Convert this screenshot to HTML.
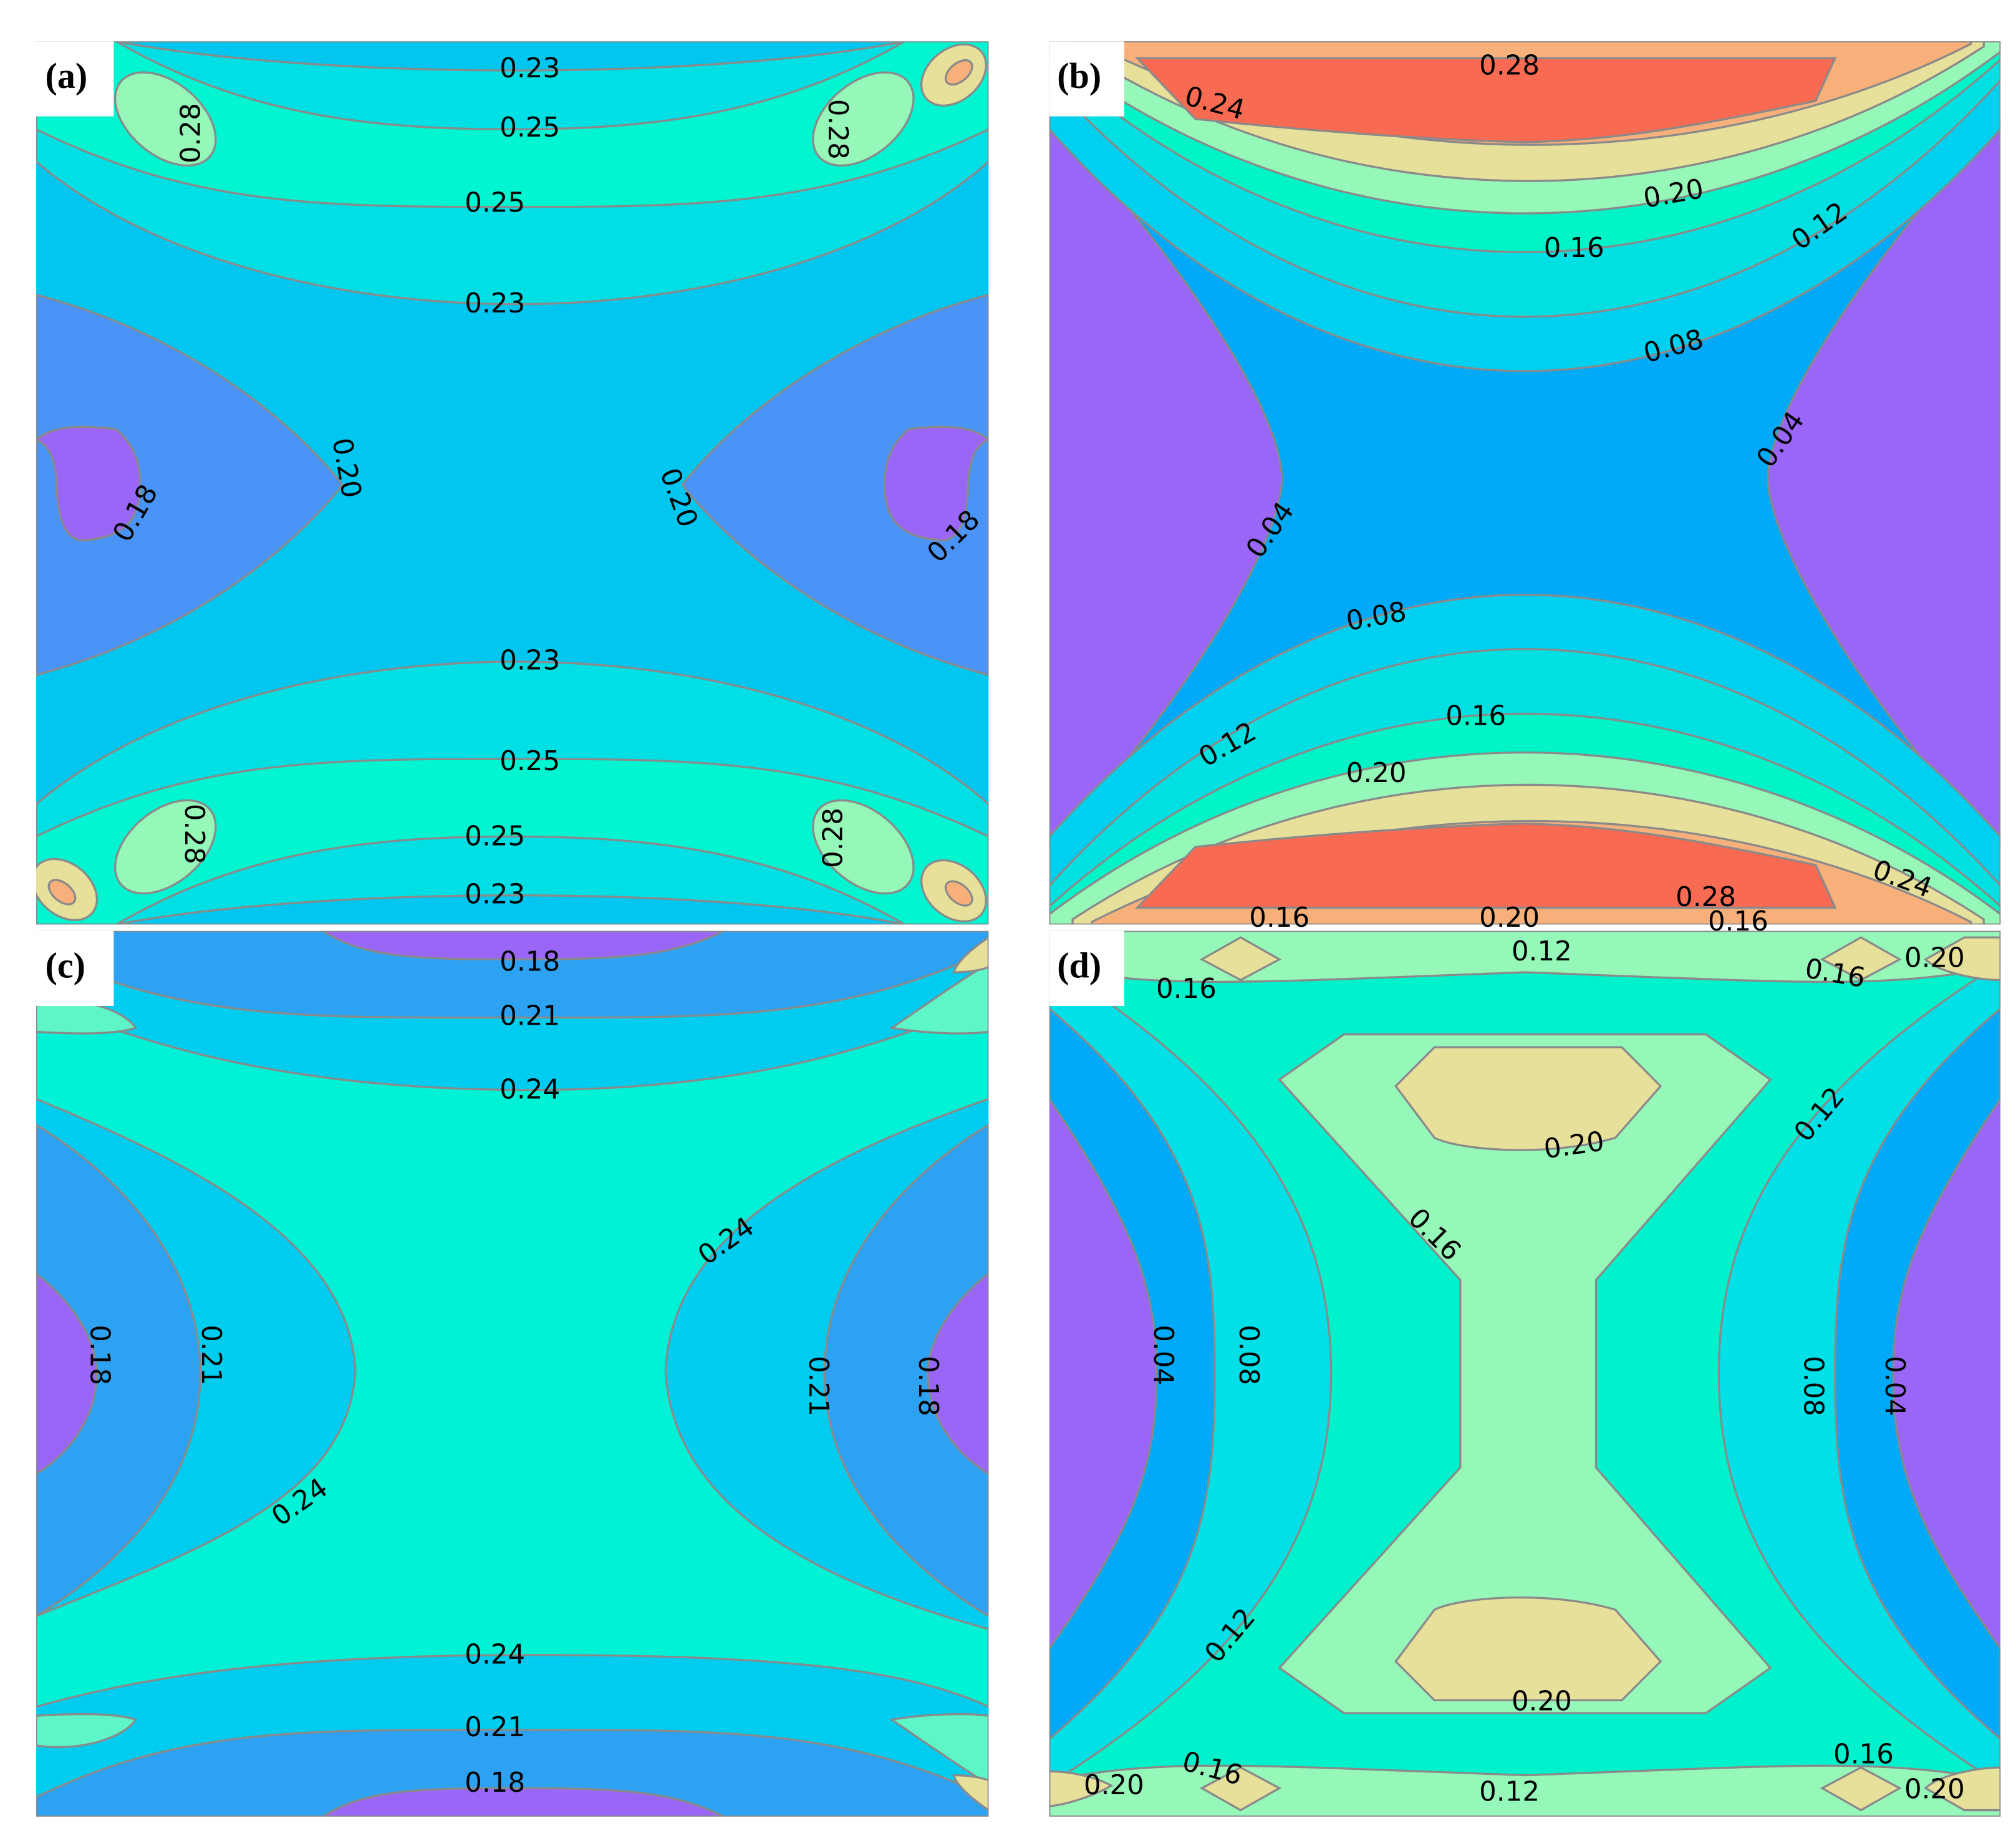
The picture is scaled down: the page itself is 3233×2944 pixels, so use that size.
<!DOCTYPE html>
<html><head><meta charset="utf-8">
<style>
html,body{margin:0;padding:0;background:#fff;}
svg{display:block;}
.cl{font-family:"DejaVu Sans","Liberation Sans",sans-serif;font-size:21px;fill:#000;text-anchor:middle;dominant-baseline:central;}
.pl{font-family:"Liberation Serif",serif;font-weight:bold;font-size:28px;fill:#000;}
.ln{stroke:#8a8a8a;stroke-width:1.6;}
</style></head>
<body>
<svg id="fig" width="3233" height="2944" viewBox="0 0 1560 1420" preserveAspectRatio="none" xmlns="http://www.w3.org/2000/svg">
<defs>
<clipPath id="ca"><rect x="28" y="32" width="737" height="683"/></clipPath>
<clipPath id="cb"><rect x="812" y="32" width="736" height="683"/></clipPath>
<clipPath id="cc"><rect x="28" y="720" width="737" height="685"/></clipPath>
<clipPath id="cd"><rect x="812" y="720" width="736" height="685"/></clipPath>
</defs>
<rect width="1560" height="1420" fill="#fff"/>

<!-- Panel A -->
<g clip-path="url(#ca)">
<rect x="28" y="32" width="737" height="683" fill="#00c6f0"/>
<g id="aTop">
<path class="ln" d="M28,32 H765 V125 C600,272 200,272 28,125 Z" fill="#00dfe4"/>
<path class="ln" d="M28,100 C150,160 250,160 396,160 C540,160 640,160 765,100 V32 H700 C600,90 500,100 396,100 C290,100 190,90 90,32 H28 Z" fill="#00f5d0"/>
<path class="ln" d="M90,32 C250,62 550,62 700,32 Z" fill="#00c6f0"/>
<ellipse class="ln" cx="128" cy="92" rx="45" ry="28" transform="rotate(40 128 92)" fill="#96f8b8"/>
<ellipse class="ln" cx="668" cy="92" rx="45" ry="28" transform="rotate(-40 668 92)" fill="#96f8b8"/>
<ellipse class="ln" cx="738" cy="58" rx="28" ry="20" transform="rotate(-40 738 58)" fill="#e6e09a"/>
<ellipse class="ln" cx="742" cy="56" rx="12" ry="7" transform="rotate(-40 742 56)" fill="#f8b07a"/>
</g>
<use href="#aTop" transform="translate(0,747) scale(1,-1)"/>
<g id="aSide">
<path class="ln" d="M28,228 C150,260 230,330 265,375 C230,420 150,490 28,522 Z" fill="#4a94f8"/>
<path class="ln" d="M28,340 C40,330 60,328 90,332 C105,345 110,360 108,385 C104,405 95,415 65,418 C50,418 45,400 44,380 C44,360 40,345 28,340 Z" fill="#9966f8"/>
</g>
<use href="#aSide" transform="translate(793,0) scale(-1,1)"/>
<ellipse class="ln" cx="50" cy="688" rx="28" ry="20" transform="rotate(40 50 688)" fill="#e6e09a"/>
<ellipse class="ln" cx="48" cy="690" rx="12" ry="7" transform="rotate(40 48 690)" fill="#f8b07a"/>
</g>

<!-- Panel B -->
<g clip-path="url(#cb)">
<rect x="812" y="32" width="736" height="683" fill="#00aaf8"/>
<g id="bSide">
<path class="ln" d="M812,92 C870,150 990,300 992,370 C990,440 870,600 812,655 Z" fill="#9966f8"/>
</g>
<use href="#bSide" transform="translate(2360,0) scale(-1,1)"/>
<g id="bTop"></g>
<use href="#bTop" transform="translate(0,747) scale(1,-1)"/>
</g>

<!-- Panel C -->
<g clip-path="url(#cc)">
<rect x="28" y="720" width="737" height="685" fill="#00ccf0"/>
<path class="ln" d="M28,775 C100,800 200,843 410,843 C600,843 700,800 765,775 L765,850 C620,900 520,960 515,1060 C520,1160 620,1220 765,1260 L765,1320 C700,1290 600,1280 410,1280 C200,1280 100,1300 28,1320 L28,1250 C150,1200 270,1160 275,1060 C270,960 150,900 28,850 Z" fill="#00f2d6"/>
<g id="cTop">
<path class="ln" d="M28,720 H765 V735 C650,790 550,787 396,787 C240,787 140,790 28,735 Z" fill="#2ea2f2"/>
<path class="ln" d="M250,720 H560 C520,740 480,742 396,742 C320,742 280,740 250,720 Z" fill="#9966f8"/>
<path class="ln" d="M28,775 C60,770 95,780 105,795 C90,800 60,800 28,798 Z" fill="#5ef6c8"/>
<path class="ln" d="M765,745 C740,760 705,785 690,795 C720,800 750,800 765,798 Z" fill="#5ef6c8"/>
<path class="ln" d="M765,725 C750,735 740,745 738,752 C750,752 760,750 765,748 Z" fill="#e6e09a"/>
</g>
<use href="#cTop" transform="translate(0,2125) scale(1,-1)"/>
<g id="cSide">
<path class="ln" d="M28,870 C110,920 155,990 155,1062 C155,1135 110,1200 28,1250 Z" fill="#2ea2f2"/>
<path class="ln" d="M28,985 C60,1010 75,1040 75,1062 C75,1090 60,1120 28,1140 Z" fill="#9966f8"/>
</g>
<use href="#cSide" transform="translate(793,0) scale(-1,1)"/>
</g>

<!-- Panel D -->
<g clip-path="url(#cd)">
<rect x="812" y="720" width="736" height="685" fill="#9966f8"/>
<path class="ln" d="M812,720 H1548 V850 C1480,950 1465,1000 1465,1062 C1465,1130 1480,1180 1548,1275 V1405 H812 V1275 C880,1180 895,1130 895,1062 C895,1000 880,950 812,850 Z" fill="#00aaf8"/>
<path class="ln" d="M812,720 H1548 V780 C1430,880 1420,960 1420,1062 C1420,1165 1430,1245 1548,1345 V1405 H812 V1345 C930,1245 940,1165 940,1062 C940,960 930,880 812,780 Z" fill="#00e0e6"/>
<path class="ln" d="M812,720 H1548 V745 C1380,850 1330,950 1330,1062 C1330,1175 1380,1275 1548,1380 V1405 H812 V1380 C980,1275 1030,1175 1030,1062 C1030,950 980,850 812,745 Z" fill="#00f2cc"/>
<path class="ln" d="M990,835 L1040,800 H1320 L1370,835 L1235,990 L1235,1135 L1370,1290 L1320,1325 H1040 L990,1290 L1130,1135 L1130,990 Z" fill="#96f8b8"/>
<g id="dTop">
<path class="ln" d="M1080,840 L1110,810 H1255 L1285,840 L1250,880 C1200,895 1130,890 1110,880 Z" fill="#e6e09a"/>
<path class="ln" d="M812,720 H1548 V748 C1450,765 1400,760 1180,752 C960,760 900,765 812,748 Z" fill="#96f8b8"/>
<path class="ln" d="M1440,725 L1470,742 L1440,758 L1410,742 Z" fill="#e6e09a"/>
<path class="ln" d="M1520,725 H1548 V758 C1530,758 1500,752 1490,742 Z" fill="#e6e09a"/>
<path class="ln" d="M960,725 L990,742 L960,758 L930,742 Z" fill="#e6e09a"/>
<path class="ln" d="M812,728 C830,730 850,738 860,744 C845,752 825,755 812,755 Z" fill="#e6e09a"/>
</g>
<use href="#dTop" transform="translate(0,2125) scale(1,-1)"/>
</g>

<!-- panel letter boxes -->
<rect x="28" y="32" width="60" height="58" fill="#fff"/>
<rect x="812" y="32" width="58" height="58" fill="#fff"/>
<rect x="28" y="720" width="60" height="58" fill="#fff"/>
<rect x="812" y="720" width="58" height="58" fill="#fff"/>
<text class="pl" x="35" y="68">(a)</text>
<text class="pl" x="818" y="68">(b)</text>
<text class="pl" x="35" y="756">(c)</text>
<text class="pl" x="818" y="756">(d)</text>

<g id="labels"></g>
</svg>
<script>
// Panel (b) top band levels (mirrored to bottom)
const bLevels = [0.08, 0.12, 0.16, 0.20, 0.24, 0.26];
const bColors = ["#00d0f0", "#00e0e2", "#00f4c8", "#96f8b8", "#e6e09a", "#f8b07a"];
const bCenterY = [287, 245, 195, 165, 140, 112];
const bEdgeY = [100, 62, 46, 40, 36, 34];
const bX0 = [812, 812, 812, 812, 830, 845];
const bX1 = [1548, 1548, 1548, 1548, 1535, 1525];

const NS = "http://www.w3.org/2000/svg";
const bTop = document.getElementById("bTop");
for (let i = 0; i < bLevels.length; i++) {
  const x0 = bX0[i], x1 = bX1[i], yc = bCenterY[i], ye = bEdgeY[i];
  const yk = (yc - 0.25 * ye) / 0.75;
  const dx = (x1 - x0) * 0.30;
  const p = document.createElementNS(NS, "path");
  p.setAttribute("d", `M${x0},32 H${x1} V${ye} C${x1 - dx},${yk} ${x0 + dx},${yk} ${x0},${ye} Z`);
  p.setAttribute("fill", bColors[i]);
  p.setAttribute("class", "ln");
  
  
  bTop.appendChild(p);
}
const red = document.createElementNS(NS, "path");
red.setAttribute("d", "M880,45 L1420,45 L1405,78 C1300,100 1250,108 1180,110 C1100,108 1000,100 925,92 Z");
red.setAttribute("fill", "#f86a52");
red.setAttribute("class", "ln");


bTop.appendChild(red);

// contour label texts
const labelText = ["0.23","0.25","0.25","0.23","0.28","0.28","0.20","0.18","0.20","0.18","0.23","0.25","0.25","0.23","0.28","0.28",
"0.28","0.24","0.20","0.12","0.16","0.08","0.04","0.04","0.08","0.16","0.12","0.20","0.24","0.28","0.16","0.20","0.16",
"0.18","0.21","0.24","0.24","0.18","0.21","0.21","0.18","0.24","0.24","0.21","0.18",
"0.12","0.16","0.16","0.20","0.20","0.12","0.16","0.04","0.08","0.08","0.04","0.12","0.20","0.20","0.16","0.16","0.12","0.20"];
const labelPos = [[410,53,0],[410,99,0],[383,157,0],[383,235,0],[148,103,-90],[648,100,90],[268,362,80],[105,397,-60],[525,385,70],[738,415,-45],[410,511,0],[410,589,0],[383,647,0],[383,692,0],[150,645,90],[645,648,-90],
[1168,51,0],[940,80,15],[1295,150,-10],[1408,175,-35],[1218,192,0],[1295,268,-15],[1378,340,-55],[983,410,-55],[1065,477,-10],[1142,554,0],[950,576,-30],[1065,598,0],[1472,680,20],[1320,694,0],[990,710,0],[1168,710,0],[1345,713,0],
[410,744,0],[410,786,0],[410,843,0],[562,960,-35],[77,1048,90],[163,1048,90],[633,1072,90],[718,1072,90],[232,1162,-35],[383,1280,0],[383,1336,0],[383,1379,0],
[1193,736,0],[918,765,0],[1420,753,10],[1497,741,0],[1218,886,-8],[1408,862,-50],[1110,955,45],[900,1048,90],[966,1048,90],[1403,1072,90],[1466,1072,90],[952,1265,-50],[1193,1316,0],[862,1381,0],[938,1368,15],[1442,1357,0],[1168,1386,0],[1497,1384,0]];
const lg = document.getElementById("labels");
for (let i = 0; i < labelText.length; i++) {
  const [x, y, r] = labelPos[i];
  const t = document.createElementNS(NS, "text");
  t.setAttribute("class", "cl");
  t.setAttribute("x", x);
  t.setAttribute("y", y);
  if (r) t.setAttribute("transform", `rotate(${r} ${x} ${y})`);
  t.textContent = labelText[i];
  
  
  lg.appendChild(t);
}
</script>
</body></html>
